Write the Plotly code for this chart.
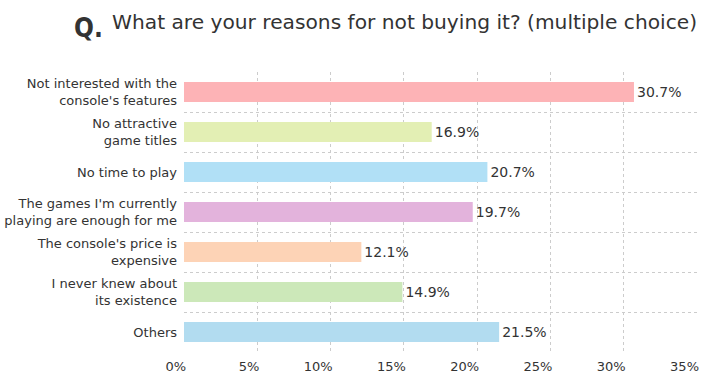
import plotly.graph_objects as go

categories = [
    "Not interested with the<br>console's features",
    "No attractive<br>game titles",
    "No time to play",
    "The games I'm currently<br>playing are enough for me",
    "The console's price is<br>expensive",
    "I never knew about<br>its existence",
    "Others",
]
values = [30.7, 16.9, 20.7, 19.7, 12.1, 14.9, 21.5]
colors = ["#FDB3B6", "#E3EFB4", "#B1E0F6", "#E3B3DC", "#FDD3B6", "#CCE8B9", "#B2DCF0"]
x_ticks = [0, 5, 10, 15, 20, 25, 30, 35]
x_tick_labels = [f"{t}%" for t in x_ticks]

ypos = list(range(len(categories)))

W, H = 715, 388
L, R, T, B = 184, 18, 72, 36
PW, PH = W - L - R, H - T - B

fig = go.Figure(go.Bar(
    x=values, y=ypos, orientation="h",
    marker=dict(color=colors, line=dict(width=0)),
    width=0.5,
    text=[f"{v}%" for v in values], textposition="outside",
    textfont=dict(family="DejaVu Sans", size=14, color="#333333"),
    cliponaxis=False,
))

fig.update_layout(
    width=W, height=H,
    margin=dict(l=L, r=R, t=T, b=B, autoexpand=False),
    paper_bgcolor="white", plot_bgcolor="white",
    showlegend=False,
    font=dict(family="DejaVu Sans", size=13, color="#333333"),
    xaxis=dict(
        range=[0, 35], tickvals=x_ticks, ticktext=x_tick_labels,
        showgrid=True, gridcolor="#cccccc", griddash="dot", gridwidth=1,
        zeroline=False, showline=False, ticks="", automargin=False,
        tickfont=dict(size=13, color="#333333"),
        ticklabelposition="outside left", ticklabelshift=2, ticklabelstandoff=5,
    ),
    yaxis=dict(
        range=[6.5, -0.5], tickvals=ypos, ticktext=categories,
        showgrid=False, zeroline=False, showline=False, ticks="", automargin=False,
        ticklabelstandoff=6,
        minor=dict(tickvals=[i + 0.5 for i in range(len(categories))],
                   showgrid=True, gridcolor="#cccccc", griddash="dot", gridwidth=1, ticks=""),
    ),
)

fig.add_annotation(
    xref="paper", yref="paper", x=(72 - L) / PW, y=1 + (T - 11) / PH,
    xanchor="left", yanchor="top", showarrow=False,
    text="<b>Q.</b>",
    font=dict(family="DejaVu Sans Condensed", size=26, color="#333333"),
)

fig.add_annotation(
    xref="paper", yref="paper", x=(110 - L) / PW, y=1 + (T - 8) / PH,
    xanchor="left", yanchor="top", showarrow=False,
    text="What are your reasons for not buying it? (multiple choice)",
    font=dict(family="DejaVu Sans", size=20.2, color="#333333"),
)

fig.write_html("out.html", config={"displayModeBar": False},
               post_script="document.body.style.margin='0px';")
